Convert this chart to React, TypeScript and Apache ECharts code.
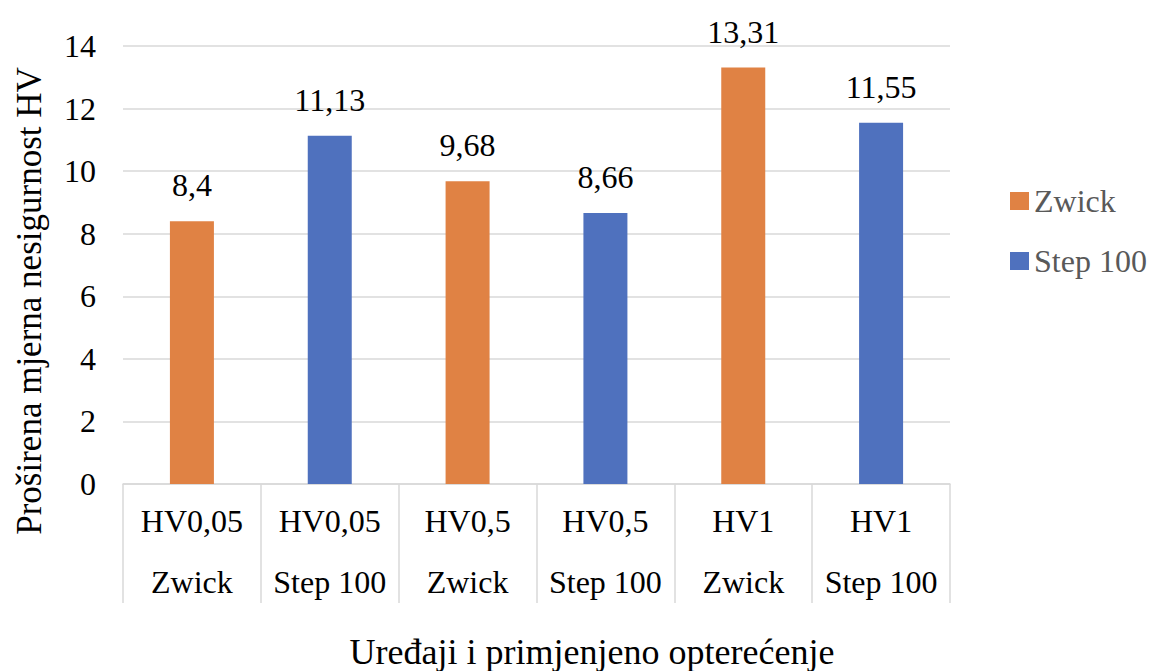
import React, { useEffect, useRef } from "react";
import * as echarts from "echarts";

const categories = [
  "HV0,05\nZwick",
  "HV0,05\nStep 100",
  "HV0,5\nZwick",
  "HV0,5\nStep 100",
  "HV1\nZwick",
  "HV1\nStep 100",
];
const zwickValues = [8.4, null, 9.68, null, 13.31, null];
const stepValues = [null, 11.13, null, 8.66, null, 11.55];
const yTicks = { min: 0, max: 14, interval: 2 };

const FONT = "Liberation Serif";

export default function App() {
  const ref = useRef<HTMLDivElement>(null);
  useEffect(() => {
    if (!ref.current) return;
    const chart = echarts.init(ref.current, undefined, { renderer: "svg" });
    const fmt = (p: any) => String(p.value).replace(".", ",");
    const label = {
      show: true,
      position: "top",
      distance: 20,
      fontFamily: FONT,
      fontSize: 32,
      color: "#000",
      formatter: fmt,
    };
    chart.setOption({
      animation: false,
      backgroundColor: "#fff",
      textStyle: { fontFamily: FONT },
      grid: { left: 123, right: 203, top: 46, bottom: 187 },
      legend: {
        orient: "vertical",
        left: 1005,
        top: 180,
        itemWidth: 19,
        itemHeight: 18,
        itemGap: 28,
        icon: "rect",
        textStyle: { fontFamily: FONT, fontSize: 32, color: "#595959", lineHeight: 32 },
        data: ["Zwick", "Step 100"],
      },
      xAxis: {
        type: "category",
        data: categories,
        axisLine: { lineStyle: { color: "#d9d9d9", width: 1.5 } },
        axisTick: { show: true, length: 119, interval: 0, lineStyle: { color: "#d9d9d9", width: 1.5 } },
        axisLabel: {
          interval: 0,
          fontFamily: FONT,
          fontSize: 32,
          lineHeight: 61,
          color: "#000",
          margin: 6,
        },
      },
      yAxis: {
        type: "value",
        min: yTicks.min,
        max: yTicks.max,
        interval: yTicks.interval,
        axisLine: { show: false },
        axisTick: { show: false },
        splitLine: { lineStyle: { color: "#d9d9d9", width: 1.5 } },
        axisLabel: { fontFamily: FONT, fontSize: 32, color: "#000", margin: 27 },
      },
      graphic: [
        {
          type: "text",
          x: 29,
          y: 301,
          rotation: Math.PI / 2,
          style: {
            text: "Proširena mjerna nesigurnost HV",
            fontFamily: FONT,
            fontSize: 35,
            fill: "#000",
            align: "center",
            verticalAlign: "middle",
          },
        },
        {
          type: "text",
          x: 592,
          y: 652,
          style: {
            text: "Uređaji i primjenjeno opterećenje",
            fontFamily: FONT,
            fontSize: 36,
            fill: "#000",
            align: "center",
            verticalAlign: "middle",
          },
        },
      ],
      series: [
        {
          name: "Zwick",
          type: "bar",
          stack: "all",
          barWidth: 44,
          data: zwickValues,
          itemStyle: { color: "#E08244" },
          label,
        },
        {
          name: "Step 100",
          type: "bar",
          stack: "all",
          barWidth: 44,
          data: stepValues,
          itemStyle: { color: "#4F71BE" },
          label,
        },
      ],
    });
    return () => chart.dispose();
  }, []);
  return (
    <div
      ref={ref}
      style={{ position: "fixed", left: 0, top: 0, width: 1153, height: 671 }}
    />
  );
}
